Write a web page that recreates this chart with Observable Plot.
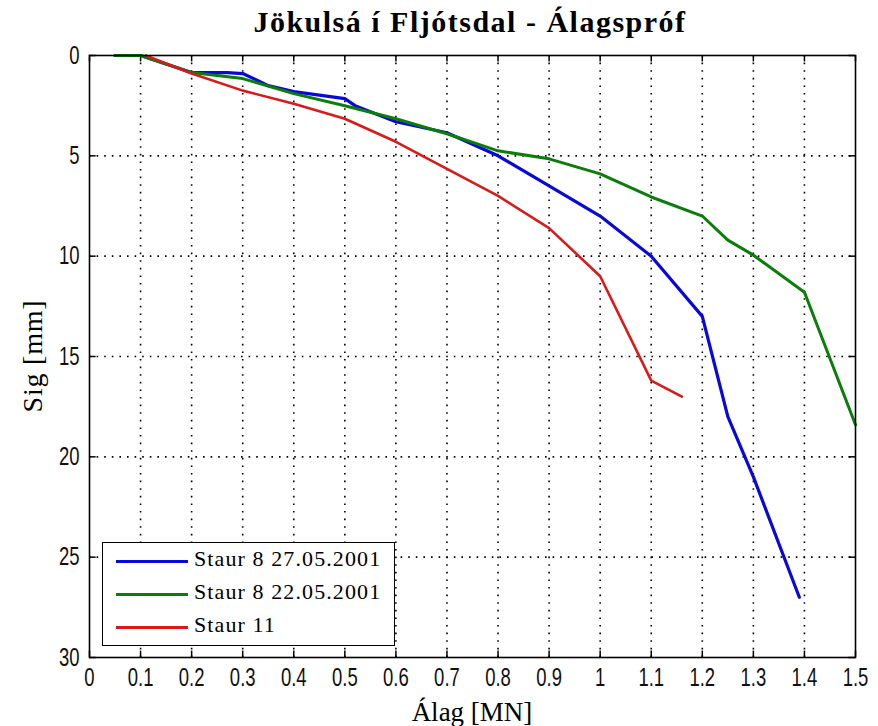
<!DOCTYPE html>
<html><head><meta charset="utf-8">
<script src="https://cdn.jsdelivr.net/npm/d3@7"></script>
<script src="https://cdn.jsdelivr.net/npm/@observablehq/plot@0.6"></script>
<style>
body{margin:0;background:#fff;}
#wrap{position:relative;width:878px;height:726px;overflow:hidden;background:#fff}
#title{position:absolute;left:0;width:878px;top:5px;text-align:center;font-family:"Liberation Serif",serif;font-weight:bold;font-size:30px;line-height:34px;letter-spacing:1.5px;padding-left:62px;box-sizing:border-box;}
#xlab{position:absolute;left:0;width:878px;top:699px;text-align:center;font-family:"Liberation Serif",serif;font-size:27px;line-height:27px;padding-left:66px;box-sizing:border-box;white-space:nowrap;}
#ylab{position:absolute;left:33px;top:356px;transform:translate(-50%,-50%) rotate(-90deg);font-family:"Liberation Serif",serif;font-size:28px;line-height:28px;letter-spacing:0.8px;white-space:nowrap;}
#legend{position:absolute;left:102px;top:542px;width:293px;height:104px;border:1px solid #000;background:#fff;box-sizing:border-box;}
.lg{position:absolute;left:0;height:30px;width:290px;}
.lg span.ln{position:absolute;left:13px;top:14px;width:72px;height:3px;}
.lg span.tx{position:absolute;left:91px;top:0px;font-family:"Liberation Serif",serif;font-size:22px;letter-spacing:1.1px;white-space:nowrap;}
</style></head>
<body>
<div id="wrap">
<div id="chart"></div>
<div id="title"></div>
<div id="xlab"></div>
<div id="ylab"></div>
<div id="legend"></div>
</div>
<script>
const titleText = "Jökulsá í Fljótsdal - Álagspróf";
const xLabel = "Álag [MN]";
const yLabel = "Sig [mm]";

const seriesNames = ["Staur 8 27.05.2001", "Staur 8 22.05.2001", "Staur 11"];
const seriesColors = ["#0808d8", "#0a7d0a", "#d81a1a"];

const blueX = [0.05, 0.1, 0.2, 0.27, 0.3, 0.35, 0.4, 0.5, 0.52, 0.6, 0.7, 0.8, 0.9, 1.0, 1.1, 1.2, 1.25, 1.3, 1.39];
const blueY = [0, 0, 0.85, 0.85, 0.9, 1.5, 1.8, 2.15, 2.5, 3.3, 3.85, 5.0, 6.5, 8.0, 10.0, 13.0, 18.0, 21.0, 27.0];

const greenX = [0.05, 0.1, 0.2, 0.3, 0.4, 0.5, 0.6, 0.7, 0.8, 0.9, 1.0, 1.1, 1.2, 1.25, 1.3, 1.4, 1.5];
const greenY = [0, 0, 0.85, 1.15, 1.9, 2.5, 3.15, 3.9, 4.75, 5.15, 5.9, 7.05, 8.0, 9.2, 9.95, 11.8, 18.4];

const redX = [0.11, 0.2, 0.3, 0.4, 0.5, 0.6, 0.7, 0.8, 0.9, 1.0, 1.1, 1.16];
const redY = [0, 0.9, 1.75, 2.4, 3.15, 4.3, 5.65, 7.0, 8.6, 11.0, 16.2, 17.0];

const xTicks = [0, 0.1, 0.2, 0.3, 0.4, 0.5, 0.6, 0.7, 0.8, 0.9, 1, 1.1, 1.2, 1.3, 1.4, 1.5];
const yTicks = [0, 5, 10, 15, 20, 25, 30];

const toRows = (xs, ys) => xs.map((x, i) => ({x, y: ys[i]}));
const rows = [toRows(blueX, blueY), toRows(greenX, greenY), toRows(redX, redY)];
const widths = [3.2, 3, 2.6];

const tickFont = {fontFamily: "'Liberation Sans',sans-serif", fontSize: 25, fontWeight: "normal"};
const tickLenX = 0.013, tickLenY = 0.32;
const squeeze = 0.74;

const chart = Plot.plot({
  width: 878, height: 726,
  marginLeft: 89, marginRight: 23, marginTop: 55, marginBottom: 69,
  style: {background: "#fff", color: "#000", overflow: "visible"},
  x: {domain: [0, 1.5]},
  y: {domain: [0, 30], reverse: true},
  marks: [
    Plot.gridX(xTicks.slice(1, -1), {stroke: "#000", strokeOpacity: 1, strokeWidth: 1.6, strokeDasharray: "1.6,6"}),
    Plot.gridY(yTicks.slice(1, -1), {stroke: "#000", strokeOpacity: 1, strokeWidth: 1.6, strokeDasharray: "1.6,6"}),
    Plot.ruleX(xTicks, {x: d => d, y1: 30, y2: 30 - tickLenY, stroke: "#000", strokeWidth: 1.5}),
    Plot.ruleX(xTicks, {x: d => d, y1: 0, y2: tickLenY, stroke: "#000", strokeWidth: 1.5}),
    Plot.ruleY(yTicks, {y: d => d, x1: 0, x2: tickLenX, stroke: "#000", strokeWidth: 1.5}),
    Plot.ruleY(yTicks, {y: d => d, x1: 1.5, x2: 1.5 - tickLenX, stroke: "#000", strokeWidth: 1.5}),
    ...rows.map((r, i) => Plot.line(r, {x: "x", y: "y", stroke: seriesColors[i], strokeWidth: widths[i], strokeLinejoin: "round"})),
    Plot.frame({stroke: "#000", strokeWidth: 1.6}),
    Plot.axisX(xTicks, {anchor: "bottom", tickSize: 0, tickPadding: 11, label: null, tickFormat: d => String(d), ...tickFont, fill: "#111"}),
    Plot.axisY(yTicks, {anchor: "left", tickSize: 0, tickPadding: 10, label: null, tickFormat: d => String(d), ...tickFont, fill: "#111"})
  ]
});
// narrow the tick-label glyphs (condensed look of the original)
chart.querySelectorAll('[aria-label$="tick label"] text').forEach(t => {
  const x = t.getAttribute("x");
  if (x != null) t.setAttribute("x", +x / squeeze);
  t.setAttribute("transform", (t.getAttribute("transform") || "") + ` scale(${squeeze},1)`);
});
document.getElementById("chart").appendChild(chart);
document.getElementById("title").textContent = titleText;
document.getElementById("xlab").textContent = xLabel;
document.getElementById("ylab").textContent = yLabel;
const lg = document.getElementById("legend");
seriesNames.forEach((n, i) => {
  const d = document.createElement("div");
  d.className = "lg";
  d.style.top = (3 + i * 33) + "px";
  const ln = document.createElement("span"); ln.className = "ln"; ln.style.background = seriesColors[i];
  const tx = document.createElement("span"); tx.className = "tx"; tx.textContent = n;
  d.appendChild(ln); d.appendChild(tx); lg.appendChild(d);
});
</script>
</body></html>
